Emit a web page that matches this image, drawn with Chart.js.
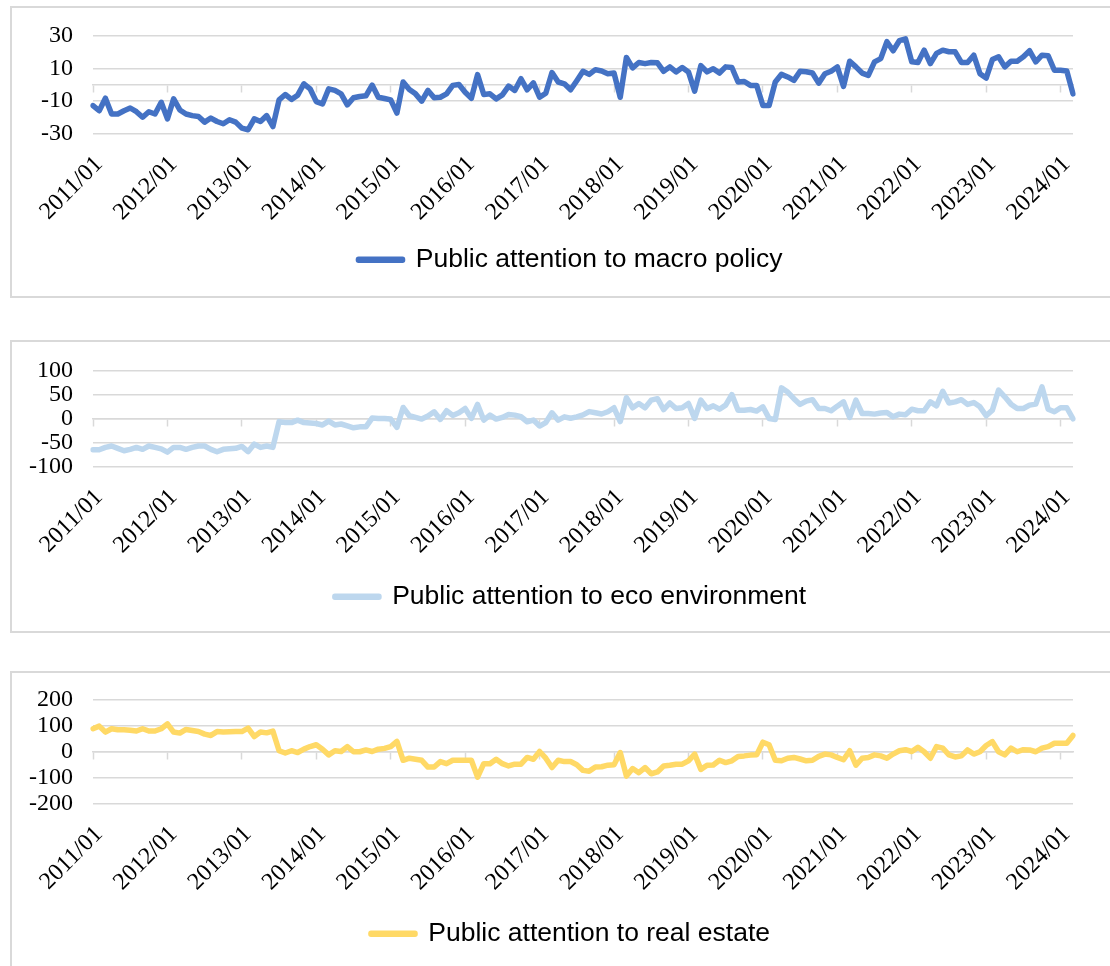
<!DOCTYPE html>
<html>
<head>
<meta charset="utf-8">
<title>Public attention</title>
<script src="https://cdn.jsdelivr.net/npm/chart.js@4.4.1/dist/chart.umd.min.js"></script>
<style>
  html, body { margin: 0; padding: 0; background: #fff; overflow: hidden; }
  body { width: 1110px; height: 966px; position: relative; }
  .panel { position: absolute; left: 10px; width: 1102px; border: 2px solid #d9d9d9; box-sizing: border-box; background: #fff; }
  .panel canvas { display: block; }
</style>
</head>
<body>
<div class="panel" style="top:6px;height:292px"><canvas id="chart1" width="1098" height="288"></canvas></div>
<div class="panel" style="top:340px;height:293px"><canvas id="chart2" width="1098" height="289"></canvas></div>
<div class="panel" style="top:671px;height:309px"><canvas id="chart3" width="1098" height="305"></canvas></div>
<script>
// Monthly categories, 2011/01 .. 2024/03
const months = [];
for (let y = 2011; y <= 2024; y++) {
    for (let m = 1; m <= 12; m++) {
        if (y === 2024 && m > 3) break;
        months.push(y + '/' + String(m).padStart(2, '0'));
    }
}

// Series values
const macroPolicy = [
    -12.8, -16, -8.3, -18, -18, -16, -14.3, -16.6, -20, -16.6,
    -18, -10.8, -21, -8.7, -15.5, -18, -19, -19.5, -23, -20.5,
    -22.6, -24, -21.5, -23, -26.7, -27.7, -21, -22.6, -19, -25.7,
    -9.3, -6, -9, -6.4, 0.6, -2.5, -10.4, -11.8, -2.5, -3.5,
    -5.6, -12.4, -8, -7.2, -6.8, -0.2, -7.7, -8.5, -9.3, -17.4,
    1.7, -2.9, -5.6, -10.1, -3.5, -8, -7.7, -5.6, -0.4, 0.2,
    -4.6, -8.3, 6.2, -6, -5.6, -8.7, -6.2, -0.8, -3.5, 3.7,
    -3.1, 1.2, -7.7, -5.2, 7.5, 1.7, 0.6, -3.1, 2.5, 8.3,
    6.4, 9.3, 8.5, 6.8, 7.2, -7.7, 16.8, 10.4, 13.7, 13,
    13.7, 13.5, 8.3, 11, 7.9, 10.6, 7.9, -3.9, 11.8, 7.9,
    9.9, 7.2, 11, 10.6, 1.7, 2, -0.4, -0.4, -12.8, -12.8,
    1.7, 6.4, 4.8, 2.7, 8.3, 8, 7.2, 1, 6.8, 8.3,
    11, -1, 14.5, 11, 7.2, 5.8, 14.1, 16.1, 26.5, 20.9,
    27.1, 28.2, 14.1, 13.7, 21.3, 13, 19.3, 21.3, 20.3, 20.3,
    13.7, 13.7, 18.2, 6.8, 4.1, 15.5, 17.2, 11, 14.5, 14.5,
    17.2, 20.9, 14.1, 18.2, 17.8, 8.9, 8.9, 8.5, -5.6
];

const ecoEnvironment = [
    -65, -65, -60, -57, -62, -67, -64, -60, -64, -57,
    -60, -63, -70, -60, -60, -64, -60, -57, -57, -64,
    -69, -64, -63, -62, -58, -69, -53, -60, -57, -60,
    -6, -8, -8, -3, -8, -9, -10, -13, -5, -13,
    -11, -15, -19, -17, -17, 1.4, 0.7, 0.7, -0.7, -18,
    23.6, 6.3, 2.8, -0.7, 5.6, 14.6, -1.4, 16.7, 7, 12.5,
    21.5, 0.7, 29.9, -2.8, 7.6, -0.7, 2.8, 9, 7.6, 4.2,
    -6.3, -2.8, -15.3, -8, 12.5, -3, 4, 1, 4, 8,
    15, 12.5, 10, 14.6, 23, -6, 44, 23, 32, 23,
    39, 42, 19, 33, 21.5, 23, 32, 0.7, 39, 21.5,
    27, 20, 28.5, 50.7, 18, 18, 19.4, 16, 25, 0.7,
    -1.4, 64.6, 56, 42, 30, 37, 40, 21.5, 21.5, 16.7,
    26.4, 35.4, 2.8, 39, 11, 11, 9.7, 12, 13, 4,
    9.7, 8.3, 20, 16.7, 16.7, 35.4, 27, 57.6, 33, 35.4,
    40, 30, 34, 25, 6.3, 18, 60, 46, 30.6, 21.5,
    21.5, 28.5, 30.6, 66.7, 20, 14.6, 23, 23, 0
];

const realEstate = [
    89, 99, 76, 89, 85, 85, 83, 80, 89, 80,
    80, 89, 108, 76, 72, 86, 82, 78, 68, 63,
    78, 76, 77, 78, 78, 91, 59, 76, 73, 80,
    4, -5, 4, -3, 10, 20, 27, 10, -12, 4,
    1, 20, 0, 0, 7, 1, 10, 13, 20, 40,
    -33, -25, -29, -33, -59, -59, -38, -46, -33, -33,
    -33, -33, -98, -46, -46, -29, -46, -55, -48, -48,
    -22, -29, 1, -25, -61, -33, -38, -38, -50, -72,
    -75, -59, -58, -52, -50, -3, -94, -65, -81, -61,
    -85, -78, -55, -52, -48, -48, -35, -9, -68, -52,
    -51, -33, -42, -35, -18, -16, -13, -12, 37, 27,
    -33, -35, -25, -22, -28, -35, -33, -18, -9, -12,
    -22, -31, 4, -52, -25, -22, -12, -16, -25, -9,
    4, 8, 1, 17, 0, -25, 20, 14, -12, -20,
    -16, 7, -9, 0, 24, 39, 0, -12, 14, 0,
    8, 7, 0, 14, 20, 33, 33, 33, 63
];

// Y axis ranges: [min, max, step]
const macroRange = [-30, 30, 20];
const ecoRange = [-100, 100, 50];
const estateRange = [-200, 200, 100];

const serifFamily = '"Liberation Serif", "Times New Roman", serif';
const sansFamily = '"Liberation Sans", Arial, sans-serif';
Chart.defaults.font.family = serifFamily;
Chart.defaults.color = '#000';

const gridColor = '#d9d9d9';

// Legend sits a bit right of the canvas centre, like the original
const legendShift = {
    id: 'legendShift',
    afterLayout(chart) {
        const shift = chart.options.plugins.legendShift.dx;
        chart.legend.left += shift;
        chart.legend.right += shift;
    },
};

// Function to draw one panel
function buildChart(canvasId, seriesName, seriesData, lineColor, yRange, frame) {
    const canvas = document.getElementById(canvasId);
    return new Chart(canvas, {
        type: 'line',
        data: {
            labels: months,
            datasets: [
                {
                    label: seriesName,
                    data: seriesData,
                    borderColor: lineColor,
                    backgroundColor: lineColor,
                    borderWidth: 5.5,
                    borderJoinStyle: 'round',
                    borderCapStyle: 'round',
                    pointRadius: 0,
                    tension: 0,
                    xAxisID: 'x',
                    yAxisID: 'y',
                },
            ],
        },
        options: {
            responsive: false,
            animation: false,
            events: [],
            layout: {
                padding: { left: 0, right: 37, top: frame.top, bottom: frame.bottom },
            },
            plugins: {
                legend: {
                    position: 'bottom',
                    labels: {
                        font: { family: sansFamily, size: 26.5 },
                        color: '#000',
                        boxWidth: 44,
                        boxHeight: 1,
                        padding: 10,
                    },
                },
                legendShift: { dx: 28 },
                tooltip: { enabled: false },
            },
            scales: {
                x: {
                    type: 'category',
                    offset: false,
                    grid: { display: false, drawTicks: false },
                    border: { display: false },
                    ticks: {
                        autoSkip: false,
                        maxRotation: 45,
                        minRotation: 45,
                        padding: 17,
                        labelOffset: 6,
                        font: { family: serifFamily, size: 24 },
                        callback: function (value, index) {
                            return index % 12 === 0 ? this.getLabelForValue(value) : null;
                        },
                    },
                    afterFit: (scale) => { scale.height = frame.axis; },
                },
                // horizontal axis line through zero with yearly tick marks
                zero: {
                    type: 'category',
                    axis: 'x',
                    position: { y: 0 },
                    offset: false,
                    grid: {
                        display: true,
                        drawOnChartArea: false,
                        drawTicks: true,
                        tickLength: 7,
                        tickWidth: 1.5,
                        tickColor: (c) => (c.index % 12 === 0 ? gridColor : 'rgba(0,0,0,0)'),
                    },
                    border: { display: true, color: gridColor, width: 1.5 },
                    ticks: { display: false },
                },
                y: {
                    min: yRange[0],
                    max: yRange[1],
                    ticks: {
                        stepSize: yRange[2],
                        autoSkip: false,
                        padding: 20,
                        font: { family: serifFamily, size: 24 },
                    },
                    grid: { color: gridColor, lineWidth: 1.5, drawTicks: false },
                    border: { display: false },
                    afterFit: (scale) => {
                        scale.width = 81;
                        // tick padding is meant horizontally only
                        scale.paddingTop = 14;
                        scale.paddingBottom = 14;
                    },
                },
            },
        },
        plugins: [legendShift],
    });
}

buildChart('chart1', 'Public attention to macro policy', macroPolicy, '#4472C4', macroRange,
    { top: 28, axis: 103, bottom: 13 });
buildChart('chart2', 'Public attention to eco environment', ecoEnvironment, '#BDD7EE', ecoRange,
    { top: 29, axis: 107, bottom: 11 });
buildChart('chart3', 'Public attention to real estate', realEstate, '#FFD966', estateRange,
    { top: 27, axis: 107, bottom: 21 });
</script>
</body>
</html>
